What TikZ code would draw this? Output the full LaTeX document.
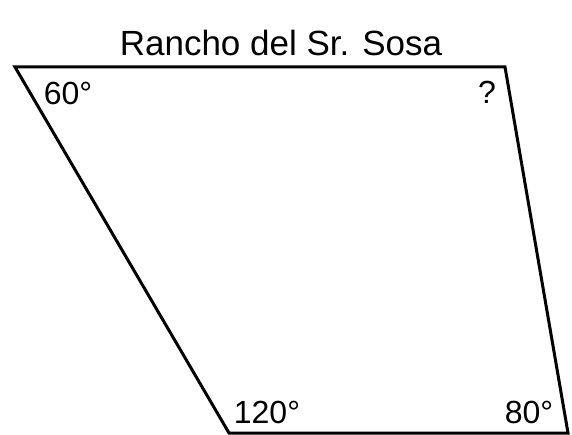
\documentclass[tikz,border=0pt]{standalone}
\usepackage{fontspec}
\usepackage{tikz}
\setmainfont{Liberation Sans}
\definecolor{edgecolor}{HTML}{000000}

\begin{document}
\begin{tikzpicture}[
    x=1pt, y=-1pt,
    angle/.style={font=\fontsize{32}{38}\selectfont, inner sep=0pt},
    field/.style={draw=edgecolor, line width=3pt, line join=miter}
]
\useasboundingbox (0,0) rectangle (572,435);
\node[font=\fontsize{35}{42}\selectfont] (title) at (281,43) {Rancho del Sr. Sosa};
\coordinate (nw) at (15,67);
\coordinate (ne) at (505,67);
\coordinate (se) at (568,433);
\coordinate (sw) at (229,433);
\draw[field] (nw) -- (ne) -- (se) -- (sw) -- cycle;
\node[angle] (anw) at (68,93) {60°};
\node[angle] (ane) at (487,92) {?};
\node[angle] (asw) at (267,412) {120°};
\node[angle] (ase) at (529,412) {80°};
\end{tikzpicture}
\end{document}
